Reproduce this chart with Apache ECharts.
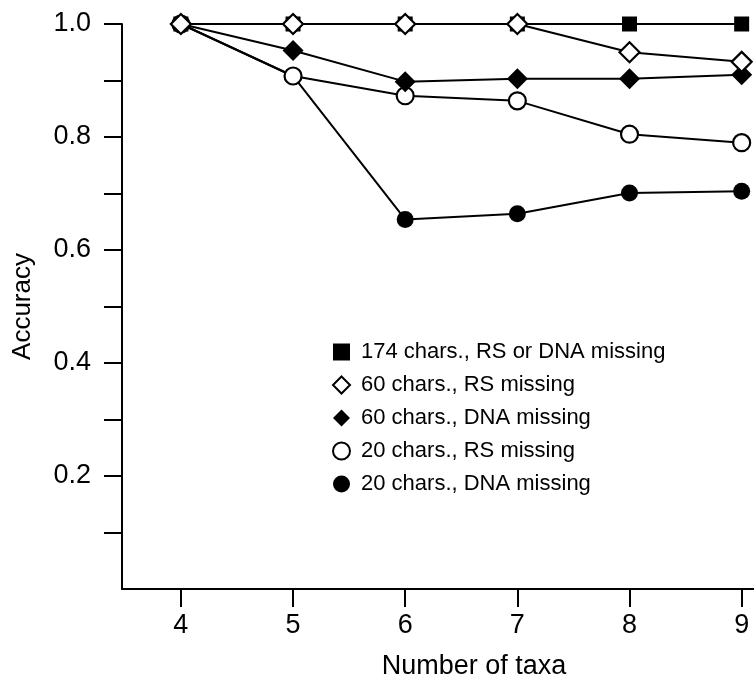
<!doctype html>
<html>
<head>
<meta charset="utf-8">
<title>Accuracy vs number of taxa</title>
<script src="https://cdn.jsdelivr.net/npm/echarts@6/dist/echarts.min.js"></script>
<style type="text/css">
	html, body{margin:0; padding:0; background:#fff;}
	#chart{width:754px; height:678px;}
</style>
</head>
<body>
<div id="chart"></div>
<script type="text/javascript">
var taxa = [4, 5, 6, 7, 8, 9];
var names = [
	'174 chars., RS or DNA missing',
	'60 chars., RS missing',
	'60 chars., DNA missing',
	'20 chars., RS missing',
	'20 chars., DNA missing'
];
var acc174 = [1.0, 1.0, 1.0, 1.0, 1.0, 1.0];
var acc60rs = [1.0, 1.0, 1.0, 1.0, 0.950, 0.933];
var acc60dna = [1.0, 0.953, 0.898, 0.903, 0.903, 0.910];
var acc20rs = [1.0, 0.908, 0.873, 0.864, 0.805, 0.790];
var acc20dna = [1.0, 0.908, 0.654, 0.664, 0.701, 0.704];
var yTicks = [0.1, 0.2, 0.3, 0.4, 0.5, 0.6, 0.7, 0.8, 0.9, 1.0];
var yLabels = [0.2, 0.4, 0.6, 0.8, 1.0];

var font = '"Liberation Sans", Arial, Helvetica, sans-serif';

function pairs(v){
	var out = [];
	for (var i = 0; i < taxa.length; i++) out.push([taxa[i], v[i]]);
	return out;
}

function mkSeries(name, vals, symbol, size, filled){
	return {
		name: name,
		type: 'line',
		data: pairs(vals),
		symbol: symbol,
		symbolSize: size,
		showAllSymbol: true,
		lineStyle: {color: '#000', width: 2},
		itemStyle: {
			color: filled ? '#000' : '#fff',
			borderColor: '#000',
			borderWidth: filled ? 0 : 2.2
		},
		emphasis: {disabled: true},
		animation: false
	};
}

var chart = echarts.init(document.getElementById('chart'));
chart.setOption({
	backgroundColor: '#fff',
	grid: {left: 122, top: 24, right: 0, bottom: 89, outerBoundsMode: 'none'},
	legend: {
		orient: 'vertical',
		left: 327,
		top: 336,
		itemWidth: 17,
		itemHeight: 17,
		itemGap: 11,
		selectedMode: false,
		textStyle: {fontFamily: font, fontSize: 22, color: '#000', padding: [0, 0, 0, 6]},
		data: [
			{name: names[0], icon: 'rect'},
			{name: names[1], icon: 'diamond'},
			{name: names[2], icon: 'diamond'},
			{name: names[3], icon: 'circle'},
			{name: names[4], icon: 'circle'}
		]
	},
	xAxis: {
		type: 'value',
		min: 3.475,
		max: 9.11,
		name: 'Number of taxa',
		nameLocation: 'middle',
		nameGap: 64,
		nameTextStyle: {fontFamily: font, fontSize: 27, color: '#000', padding: [0, 0, 0, 72]},
		axisLine: {lineStyle: {color: '#000', width: 2}},
		axisTick: {show: true, length: 18, lineStyle: {color: '#000', width: 2}, customValues: taxa},
		axisLabel: {fontFamily: font, fontSize: 27, color: '#000', margin: 23, customValues: taxa},
		splitLine: {show: false}
	},
	yAxis: {
		type: 'value',
		min: 0,
		max: 1,
		name: 'Accuracy',
		nameLocation: 'middle',
		nameGap: 86,
		nameTextStyle: {fontFamily: font, fontSize: 26, color: '#000'},
		axisLine: {show: true, lineStyle: {color: '#000', width: 2}},
		axisTick: {show: true, length: 18, lineStyle: {color: '#000', width: 2}, customValues: yTicks},
		axisLabel: {
			fontFamily: font, fontSize: 27, color: '#000', margin: 31,
			customValues: yLabels,
			formatter: function(v){ return v.toFixed(1); }
		},
		splitLine: {show: false}
	},
	series: [
		mkSeries(names[4], acc20dna, 'circle', 17, true),
		mkSeries(names[3], acc20rs, 'circle', 17, false),
		mkSeries(names[2], acc60dna, 'diamond', 21, true),
		mkSeries(names[0], acc174, 'rect', 15, true),
		mkSeries(names[1], acc60rs, 'diamond', 20, false)
	]
});
</script>
</body>
</html>
